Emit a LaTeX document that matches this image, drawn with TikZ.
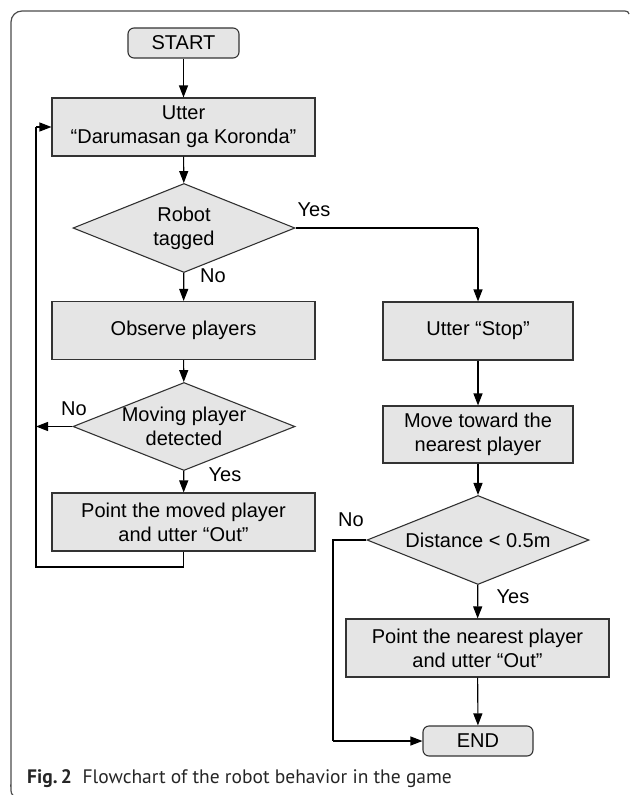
\documentclass[tikz,border=0pt]{standalone}
\usepackage{fontspec}
\setmainfont{Liberation Sans}
\newfontfamily\capfont{PT Sans}
\usetikzlibrary{shapes.geometric,arrows.meta}
\definecolor{boxfill}{gray}{0.9}
\definecolor{boxline}{gray}{0.2}
\definecolor{framecol}{gray}{0.3}
\definecolor{captext}{gray}{0.15}
\tikzset{
  base/.style={draw=boxline, fill=boxfill, line width=1.1pt, inner sep=0pt,
    align=center, font=\fontsize{20}{24}\selectfont},
  procbox/.style={base, rectangle, minimum width=263pt, minimum height=58pt},
  sidebox/.style={base, rectangle, minimum width=190pt, minimum height=58pt},
  termbox/.style={base, rectangle, rounded corners=6pt, minimum width=111pt, minimum height=30pt},
  decbox/.style={base, diamond, minimum width=222pt, minimum height=89pt},
  dectext/.style={inner sep=0pt, align=center, font=\fontsize{20}{24}\selectfont},
  lbl/.style={inner sep=0pt, font=\fontsize{20}{24}\selectfont},
  flow/.style={draw=black, line width=1.1pt, -{Triangle[length=12pt,width=9pt]}},
  plain/.style={draw=black, line width=1.1pt},
  frame/.style={draw=framecol, line width=1.2pt},
}
\begin{document}
\begin{tikzpicture}[x=1pt, y=-1pt]
\useasboundingbox (0,0) rectangle (630,795);

% outer figure frame
\draw[frame] (13,795) to[out=180,in=90] (11,789) -- (11,22)
  arc[start angle=180, end angle=270, radius=11] -- (625,11) to[out=0,in=90] (629,14);

% left column
\node[termbox] (start) at (183.5,43) {START};
\node[procbox] (utter) at (183.5,127) {Utter\\“Darumasan ga Koronda”};
\node[decbox] (tagged) at (184,228) {};
\node[dectext] at (tagged) {Robot\\tagged};
\node[procbox] (observe) at (183.5,330.5) {Observe players};
\node[decbox, minimum height=88pt] (moving) at (184,426.5) {};
\node[dectext] at (moving) {Moving player\\detected};
\node[procbox] (pointmoved) at (183.5,522) {Point the moved player\\and utter “Out”};

% right column
\node[sidebox] (stop) at (478,331) {Utter “Stop”};
\node[sidebox, minimum height=57pt] (approach) at (478,434.5) {Move toward the\\nearest player};
\node[decbox] (dist) at (478,540) {};
\node[dectext] at (dist) {Distance < 0.5m};
\node[procbox] (pointnear) at (477.5,648) {Point the nearest player\\and utter “Out”};
\node[termbox, minimum width=110pt] (end) at (478,741) {END};

% routing points
\coordinate (loopbot) at (183.5,567);
\coordinate (loopleft) at (36,567);
\coordinate (looptop) at (36,127);
\coordinate (noleft) at (36,426.5);
\coordinate (yescorner) at (478,228);
\coordinate (farnotop) at (333,540);
\coordinate (farnobot) at (333,741);

% connectors
\draw[flow] (start) -- (utter);
\draw[flow] (utter) -- (tagged);
\draw[flow] (tagged) -- (observe);
\draw[flow] (observe) -- (moving);
\draw[flow] (moving) -- (pointmoved);
\draw[flow] (moving.west) -- (noleft);
\draw[plain] (pointmoved.south) -- (loopbot) -- (loopleft) -- (looptop);
\draw[flow] (looptop) -- (utter.west);
\draw[plain] (tagged.east) -- (yescorner);
\draw[flow] (yescorner) -- (stop.north);
\draw[flow] (stop) -- (approach);
\draw[flow] (approach) -- (dist);
\draw[flow] (dist) -- (pointnear);
\draw[flow] (pointnear) -- (end);
\draw[plain] (dist.west) -- (farnotop) -- (farnobot);
\draw[flow] (farnobot) -- (end.west);

% branch labels
\node[lbl] at (314,210) {Yes};
\node[lbl] at (213,276) {No};
\node[lbl] at (74,409) {No};
\node[lbl] at (225,475) {Yes};
\node[lbl] at (351,520) {No};
\node[lbl] at (513,597) {Yes};

% caption
\node[anchor=base west, inner sep=0pt, text=captext, font=\capfont\fontsize{19.5}{22}\selectfont] (caption) at (27,783)
  {\textbf{Fig.\,2}\hspace{0.55em}Flowchart of the robot behavior in the game};
\end{tikzpicture}
\end{document}
